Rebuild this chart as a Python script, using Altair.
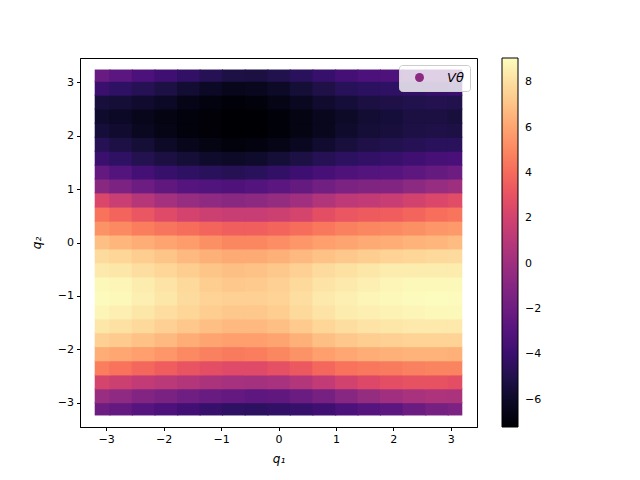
import altair as alt
import pandas as pd

# grid coordinates (cell centres)
q1_values = [-3.14, -2.75, -2.36, -1.96, -1.57, -1.18, -0.79, -0.39, 0.0,
             0.39, 0.79, 1.18, 1.57, 1.96, 2.36, 2.75, 3.14]
q2_values = [-3.14, -2.88, -2.62, -2.36, -2.09, -1.83, -1.57, -1.31, -1.05,
             -0.79, -0.52, -0.26, 0.0, 0.26, 0.52, 0.79, 1.05, 1.31, 1.57,
             1.83, 2.09, 2.36, 2.62, 2.88, 3.14]

# V_theta values, one list per q2 row (bottom to top)
row_00 = [-2.0, -2.4, -2.9, -3.3, -3.7, -4.1, -4.4, -4.5, -4.3, -4.1, -3.8, -3.3, -2.9, -2.7, -2.1, -1.6, -1.4]
row_01 = [-0.2, -0.6, -1.1, -1.5, -1.9, -2.2, -2.4, -2.6, -2.5, -2.1, -1.6, -0.9, -0.4, 0.1, 0.4, 0.6, 0.5]
row_02 = [2.2, 1.8, 1.4, 1.1, 0.8, 0.5, 0.3, 0.2, 0.4, 0.8, 1.4, 2.0, 2.5, 2.8, 3.0, 3.0, 2.8]
row_03 = [4.7, 4.3, 3.9, 3.5, 3.1, 2.8, 2.6, 2.6, 2.9, 3.3, 3.9, 4.3, 4.5, 4.6, 4.8, 4.9, 4.9]
row_04 = [6.3, 6.1, 5.8, 5.5, 5.1, 4.8, 4.6, 4.7, 5.0, 5.4, 5.8, 6.1, 6.3, 6.4, 6.5, 6.5, 6.4]
row_05 = [7.5, 7.3, 7.0, 6.7, 6.3, 6.0, 5.8, 5.8, 6.0, 6.4, 6.9, 7.2, 7.4, 7.5, 7.6, 7.6, 7.6]
row_06 = [8.3, 8.1, 7.8, 7.5, 7.2, 6.9, 6.7, 6.7, 6.9, 7.3, 7.7, 8.0, 8.2, 8.3, 8.4, 8.4, 8.4]
row_07 = [8.8, 8.6, 8.3, 8.0, 7.7, 7.4, 7.2, 7.2, 7.4, 7.8, 8.2, 8.5, 8.6, 8.7, 8.8, 8.9, 8.9]
row_08 = [9.0, 8.9, 8.6, 8.3, 7.9, 7.6, 7.5, 7.5, 7.6, 8.0, 8.4, 8.6, 8.8, 8.9, 9.0, 9.05, 9.0]
row_09 = [8.9, 8.8, 8.5, 8.2, 7.8, 7.4, 7.2, 7.3, 7.5, 7.8, 8.2, 8.4, 8.6, 8.8, 8.9, 8.9, 8.9]
row_10 = [8.4, 8.3, 8.0, 7.7, 7.4, 7.1, 6.9, 7.0, 7.2, 7.5, 7.9, 8.1, 8.3, 8.5, 8.5, 8.5, 8.5]
row_11 = [7.9, 7.7, 7.4, 7.1, 6.7, 6.4, 6.2, 6.2, 6.4, 6.7, 7.0, 7.2, 7.4, 7.6, 7.7, 7.8, 7.9]
row_12 = [6.9, 6.6, 6.3, 6.0, 5.7, 5.3, 5.0, 5.0, 5.2, 5.5, 5.8, 6.0, 6.2, 6.3, 6.5, 6.6, 6.8]
row_13 = [5.4, 5.1, 4.7, 4.4, 4.1, 3.8, 3.6, 3.6, 3.8, 4.1, 4.5, 4.8, 5.0, 5.1, 5.3, 5.5, 5.6]
row_14 = [4.3, 3.8, 3.2, 2.6, 2.1, 1.8, 1.6, 1.6, 1.8, 2.2, 2.8, 3.2, 3.4, 3.5, 3.8, 4.2, 4.4]
row_15 = [2.4, 1.7, 0.9, 0.2, -0.3, -0.6, -0.8, -0.7, -0.4, 0.1, 0.7, 1.2, 1.4, 1.6, 2.0, 2.4, 2.7]
row_16 = [-0.8, -1.4, -2.0, -2.5, -2.9, -3.1, -3.2, -3.0, -2.7, -2.3, -1.8, -1.4, -1.2, -1.1, -0.7, -0.3, 0.0]
row_17 = [-2.4, -3.0, -3.6, -4.1, -4.4, -4.6, -4.8, -4.6, -4.3, -3.9, -3.5, -3.2, -3.0, -2.9, -2.6, -2.3, -2.0]
row_18 = [-4.0, -4.4, -4.9, -5.3, -5.6, -5.9, -6.0, -5.9, -5.6, -5.2, -4.8, -4.5, -4.3, -4.1, -3.8, -3.5, -3.4]
row_19 = [-4.8, -5.2, -5.6, -6.0, -6.4, -6.7, -6.9, -6.8, -6.6, -6.2, -5.8, -5.4, -5.1, -5.0, -4.8, -4.6, -4.6]
row_20 = [-5.5, -5.8, -6.2, -6.6, -6.9, -7.1, -7.2, -7.2, -7.0, -6.7, -6.3, -5.9, -5.6, -5.4, -5.2, -5.1, -5.2]
row_21 = [-5.9, -6.1, -6.4, -6.7, -6.9, -7.1, -7.2, -7.2, -7.0, -6.7, -6.3, -6.0, -5.7, -5.5, -5.3, -5.3, -5.4]
row_22 = [-5.4, -5.6, -5.8, -6.1, -6.5, -6.8, -7.0, -6.9, -6.6, -6.2, -5.8, -5.5, -5.3, -5.1, -5.0, -4.9, -5.0]
row_23 = [-4.0, -4.4, -4.8, -5.2, -5.7, -6.1, -6.4, -6.3, -6.0, -5.6, -5.1, -4.7, -4.5, -4.4, -4.3, -4.1, -4.0]
row_24 = [-2.2, -2.7, -3.3, -3.8, -4.3, -4.8, -5.2, -5.3, -5.0, -4.6, -4.1, -3.6, -3.3, -3.2, -2.9, -2.5, -2.2]

rows = [row_00, row_01, row_02, row_03, row_04, row_05, row_06, row_07, row_08,
        row_09, row_10, row_11, row_12, row_13, row_14, row_15, row_16, row_17,
        row_18, row_19, row_20, row_21, row_22, row_23, row_24]

colorbar_ticks = [-6, -4, -2, 0, 2, 4, 6, 8]
axis_ticks = [-3, -2, -1, 0, 1, 2, 3]
v_min, v_max = -7.2, 9.07
lim = 3.456


def edges(centres, outer, overlap=0.02):
    mids = [(a + b) / 2 for a, b in zip(centres[:-1], centres[1:])]
    lo = [-outer] + mids
    hi = [m + overlap for m in mids] + [outer]
    return lo, hi


x_lo, x_hi = edges(q1_values, 3.2)
y_lo, y_hi = edges(q2_values, 3.24)

records = []
for i, q2 in enumerate(q2_values):
    for j, q1 in enumerate(q1_values):
        records.append({"x0": x_lo[j], "x1": x_hi[j], "y0": y_lo[i], "y1": y_hi[i],
                        "V": rows[i][j]})
df = pd.DataFrame(records)

xscale = alt.Scale(domain=[-lim, lim], nice=False, zero=False)
yscale = alt.Scale(domain=[-lim, lim], nice=False, zero=False)
cscale = alt.Scale(scheme="magma", domain=[v_min, v_max], nice=False)

heat = alt.Chart(df).mark_rect().encode(
    x=alt.X("x0:Q", scale=xscale,
            axis=alt.Axis(title="q₁", values=axis_ticks, format="d")),
    x2="x1:Q",
    y=alt.Y("y0:Q", scale=yscale,
            axis=alt.Axis(title="q₂", values=axis_ticks, format="d")),
    y2="y1:Q",
    color=alt.Color("V:Q", scale=cscale,
                    legend=alt.Legend(type="gradient", title=None, orient="right",
                                      offset=25, direction="vertical",
                                      gradientLength=369, gradientThickness=16,
                                      gradientStrokeColor="black",
                                      gradientStrokeWidth=1,
                                      values=colorbar_ticks, labelOverlap=False,
                                      labelOffset=7, labelFontSize=11,
                                      labelColor="black",
                                      labelFont="DejaVu Sans", padding=0)),
)

series_df = pd.DataFrame({"series": ["Vθ"], "q1": [0.0], "q2": [0.0]})
legend_layer = alt.Chart(series_df).mark_point(filled=True, opacity=0,
                                               color="#8c2981").encode(
    x=alt.X("q1:Q", scale=xscale),
    y=alt.Y("q2:Q", scale=yscale),
    shape=alt.Shape("series:N", scale=alt.Scale(range=["circle"]),
                    legend=alt.Legend(title=None, orient="top-right", offset=7,
                                      symbolFillColor="#8c2981",
                                      symbolStrokeColor="#8c2981",
                                      symbolOpacity=1, symbolSize=80,
                                      symbolOffset=8, labelOffset=21,
                                      labelFont="DejaVu Sans",
                                      labelFontStyle="italic",
                                      labelFontSize=13, labelColor="black",
                                      fillColor="rgba(255,255,255,0.8)",
                                      strokeColor="#cccccc", cornerRadius=3,
                                      padding=6)),
)

chart = alt.layer(heat, legend_layer).properties(
    width=397, height=369,
    autosize=alt.AutoSizeParams(type="none"),
    padding={"left": 72, "top": 50, "right": 150, "bottom": 45},
).configure_view(stroke="black", strokeWidth=1).configure_axis(
    grid=False, domainColor="black", tickColor="black", tickSize=3.5,
    labelColor="black", labelFontSize=11, labelFont="DejaVu Sans",
    titleFont="DejaVu Sans", titleFontSize=12, titleFontWeight="normal",
    titleFontStyle="italic", titleColor="black", labelPadding=3,
).configure_axisX(titlePadding=9).configure_axisY(titlePadding=14)

chart.save("out.html", embed_options={"renderer": "svg", "actions": False})
